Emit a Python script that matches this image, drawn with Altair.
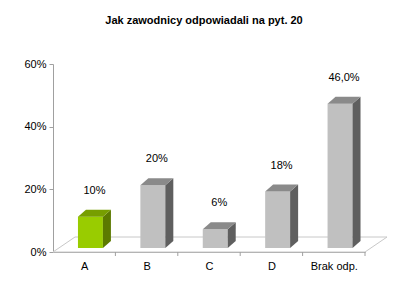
import json
import altair as alt
import pandas as pd

# ---- data ----
categories = ["A", "B", "C", "D", "Brak odp."]
values = [10, 20, 6, 18, 46]
value_labels = ["10%", "20%", "6%", "18%", "46,0%"]
highlight = [True, False, False, False, False]
y_ticks = [0, 20, 40, 60]

# ---- geometry / style constants ----
W, H = 312, 188
N = len(categories)
YMAX = 60
XU = N / W          # data units per pixel (x)
YU = YMAX / H       # data units per pixel (y)
BAR_L, BAR_R = 0.4, 0.8
DX, DY = 8 * XU, 7 * YU          # bar depth
FX, FY = 22 * XU, 15 * YU        # floor depth
BASE_OFF = -4                    # bars sit a bit back on the floor

FONT = "Liberation Sans"
front_scale = alt.Scale(domain=[True, False], range=["#99CC00", "#C0C0C0"])
side_scale = alt.Scale(domain=[True, False], range=["#5C7A00", "#5F5F5F"])
top_scale = alt.Scale(domain=[True, False], range=["#779E00", "#8A8A8A"])

xs = alt.Scale(domain=[0, N], nice=False, zero=False)
ys = alt.Scale(domain=[0, YMAX], nice=False)

label_arr = json.dumps(categories)
x_axis = alt.Axis(
    values=[i + 0.5 for i in range(N)],
    labelExpr=f"{label_arr}[floor(datum.value)]",
    ticks=False, grid=False, domainColor="#A0A0A0", labelPadding=8,
    labelFont=FONT, labelFontSize=11, labelColor="#000000", title=None,
)
y_axis = alt.Axis(
    values=y_ticks, labelExpr="datum.value + '%'", grid=False,
    domainColor="#A0A0A0", tickColor="#A0A0A0", tickSize=4, labelPadding=3,
    labelFont=FONT, labelFontSize=11, labelColor="#000000", title=None,
)

# ---- tables built from the arrays ----
bars = pd.DataFrame({
    "cat": categories, "v": values, "lab": value_labels, "hl": highlight,
    "i": list(range(N)),
})
bars["x0"] = bars["i"] + BAR_L
bars["x1"] = bars["i"] + BAR_R
bars["y0"] = 0.0
bars["xm"] = bars["i"] + (BAR_L + BAR_R) / 2

side_rows, top_rows = [], []
for c, v, h, i in zip(categories, values, highlight, range(N)):
    side_rows.append({"cat": c, "hl": h, "x": i + BAR_R, "y": 0.0, "y2": v})
    side_rows.append({"cat": c, "hl": h, "x": i + BAR_R + DX, "y": DY, "y2": v + DY})
    top_rows.append({"cat": c, "hl": h, "y": v, "x": i + BAR_L, "x2": i + BAR_R})
    top_rows.append({"cat": c, "hl": h, "y": v + DY, "x": i + BAR_L + DX, "x2": i + BAR_R + DX})
side = pd.DataFrame(side_rows)
top = pd.DataFrame(top_rows)

floor = pd.DataFrame({"y": [0.0, FY], "x": [0.0, FX], "x2": [float(N), N + FX]})
bounds = pd.DataFrame({"b": [float(k) for k in range(1, N + 1)]})

# ---- layers ----
floor_layer = alt.Chart(floor).mark_area(
    orient="horizontal", fill="#FFFFFF", stroke="#C8C8C8", strokeWidth=1
).encode(
    y=alt.Y("y:Q", scale=ys, axis=y_axis),
    x=alt.X("x:Q", scale=xs, axis=x_axis),
    x2="x2:Q",
)

tick_layer = alt.Chart(bounds).mark_rule(color="#A0A0A0").encode(
    x=alt.X("b:Q", scale=xs, axis=x_axis),
    y=alt.value(H), y2=alt.value(H + 4),
)

front_layer = alt.Chart(bars).mark_bar(yOffset=BASE_OFF, y2Offset=BASE_OFF).encode(
    x=alt.X("x0:Q", scale=xs, axis=x_axis), x2="x1:Q",
    y=alt.Y("y0:Q", scale=ys, axis=y_axis), y2="v:Q",
    color=alt.Color("hl:N", scale=front_scale, legend=None),
)

side_layer = alt.Chart(side).mark_area(yOffset=BASE_OFF, y2Offset=BASE_OFF).encode(
    x=alt.X("x:Q", scale=xs, axis=x_axis),
    y=alt.Y("y:Q", scale=ys, axis=y_axis), y2="y2:Q",
    detail="cat:N",
    color=alt.Color("hl:N", scale=side_scale, legend=None),
)

top_layer = alt.Chart(top).mark_area(orient="horizontal", yOffset=BASE_OFF).encode(
    y=alt.Y("y:Q", scale=ys, axis=y_axis),
    x=alt.X("x:Q", scale=xs, axis=x_axis), x2="x2:Q",
    detail="cat:N",
    color=alt.Color("hl:N", scale=top_scale, legend=None),
)

text_layer = alt.Chart(bars).mark_text(
    font=FONT, fontSize=11, color="#000000", dx=4, dy=BASE_OFF - 26
).encode(
    x=alt.X("xm:Q", scale=xs, axis=x_axis),
    y=alt.Y("v:Q", scale=ys, axis=y_axis),
    text="lab:N",
)

chart = alt.layer(
    floor_layer, tick_layer, front_layer, side_layer, top_layer, text_layer
).resolve_scale(color="independent").properties(
    width=W, height=H,
    autosize=alt.AutoSizeParams(type="none"),
    padding={"left": 53, "top": 64, "right": 44, "bottom": 41},
    background="#FFFFFF",
    title=alt.TitleParams(
        "Jak zawodnicy odpowiadali na pyt. 20",
        font=FONT, fontSize=11, fontWeight="bold", color="#000000",
        anchor="middle", baseline="bottom", offset=21, dx=-5,
    ),
).configure_view(stroke=None)

chart.save("out.html", embed_options={"renderer": "svg", "actions": False})
